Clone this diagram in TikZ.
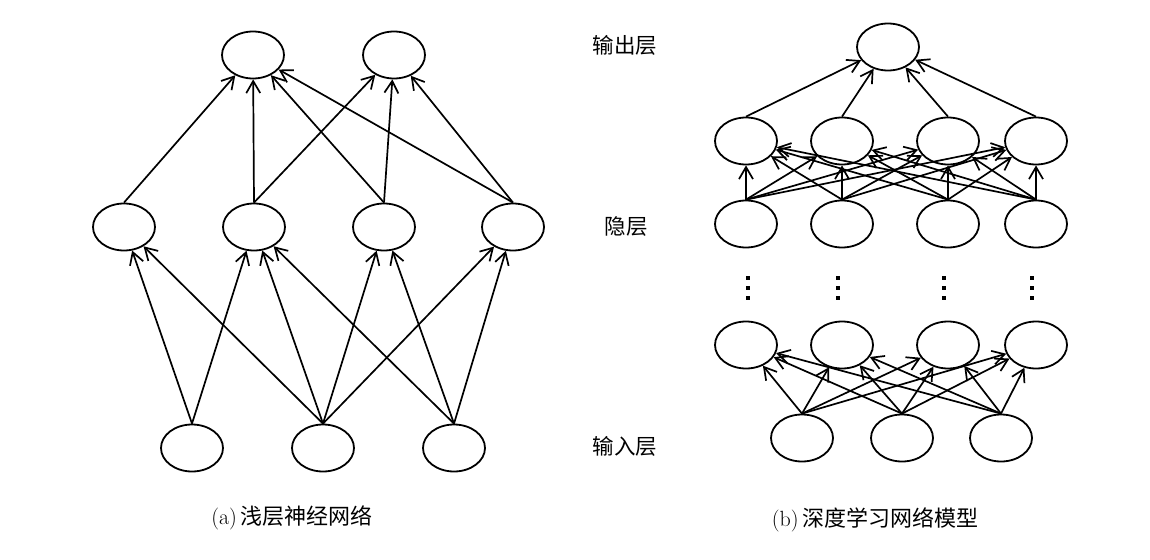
\documentclass[tikz,border=0pt]{standalone}
\usepackage{fontspec}
\newfontfamily\cjk{Noto Sans CJK SC}
\usetikzlibrary{shapes.geometric,arrows.meta}
\begin{document}
\begin{tikzpicture}[x=1pt,y=-1pt,
  neuron/.style={ellipse,draw,line width=1.8pt,fill=white,minimum width=62pt,minimum height=47pt,inner sep=0pt},
  arr/.style={-{Straight Barb[length=12pt,width=14pt,line width=1.7pt]},line width=1.7pt},
  lbl/.style={font=\cjk\fontsize{21.5}{22}\selectfont,inner sep=0pt},
  captext/.style={font=\cjk\fontsize{22}{22}\selectfont,inner sep=0pt},
  vdot/.style={fill=black}]
\useasboundingbox[fill=white] (0,0) rectangle (1150,559);
% ---------- (a) shallow network ----------
\node[neuron] (ao1) at (253,55) {};
\node[neuron] (ao2) at (394,55) {};
\node[neuron] (ah1) at (124,227) {};
\node[neuron] (ah2) at (254,227) {};
\node[neuron] (ah3) at (384,227) {};
\node[neuron] (ah4) at (513,227) {};
\node[neuron] (ai1) at (192,448) {};
\node[neuron] (ai2) at (323,448) {};
\node[neuron] (ai3) at (454,448) {};
\foreach \s/\t in {ah1/ao1,ah2/ao1,ah2/ao2,ah3/ao1,ah3/ao2,ah4/ao1,ah4/ao2}
  \draw[arr] (\s.north) -- (\t);
\foreach \s/\t in {ai1/ah1,ai1/ah2,ai2/ah1,ai2/ah2,ai2/ah3,ai2/ah4,ai3/ah2,ai3/ah3,ai3/ah4}
  \draw[arr] (\s.north) -- (\t);
% ---------- (b) deep network ----------
\node[neuron] (bo) at (888,47) {};
\foreach \i/\x in {1/746,2/842,3/948,4/1036}{
  \node[neuron] (bh\i) at (\x,141) {};
  \node[neuron] (bg\i) at (\x,224) {};
  \node[neuron] (bk\i) at (\x,345) {};
}
\node[neuron] (bi1) at (802,438) {};
\node[neuron] (bi2) at (902,438) {};
\node[neuron] (bi3) at (1001,438) {};
\foreach \i in {1,...,4}
  \draw[arr] (bh\i.north) -- (bo);
\foreach \i in {1,...,4}
  \foreach \j in {1,...,4}
    \draw[arr] (bg\i.north) -- (bh\j);
\foreach \i in {1,...,3}
  \foreach \j in {1,...,4}
    \draw[arr] (bi\i.north) -- (bk\j);
% vertical dots
\foreach \x in {748,838,944,1032}
  \foreach \y in {278,288,298}
    \fill[vdot] (\x-2.2,\y-2.2) rectangle (\x+2.2,\y+2.2);
% ---------- labels ----------
\node[lbl] (lout) at (625,45) {输出层};
\node[lbl] (lhid) at (626,227) {隐层};
\node[lbl] (lin) at (625,446) {输入层};
\node[captext] (capa) at (292,518) {{\rmfamily (a)}\,浅层神经网络};
\node[captext] (capb) at (875,520) {{\rmfamily (b)}\,深度学习网络模型};
\end{tikzpicture}
\end{document}
